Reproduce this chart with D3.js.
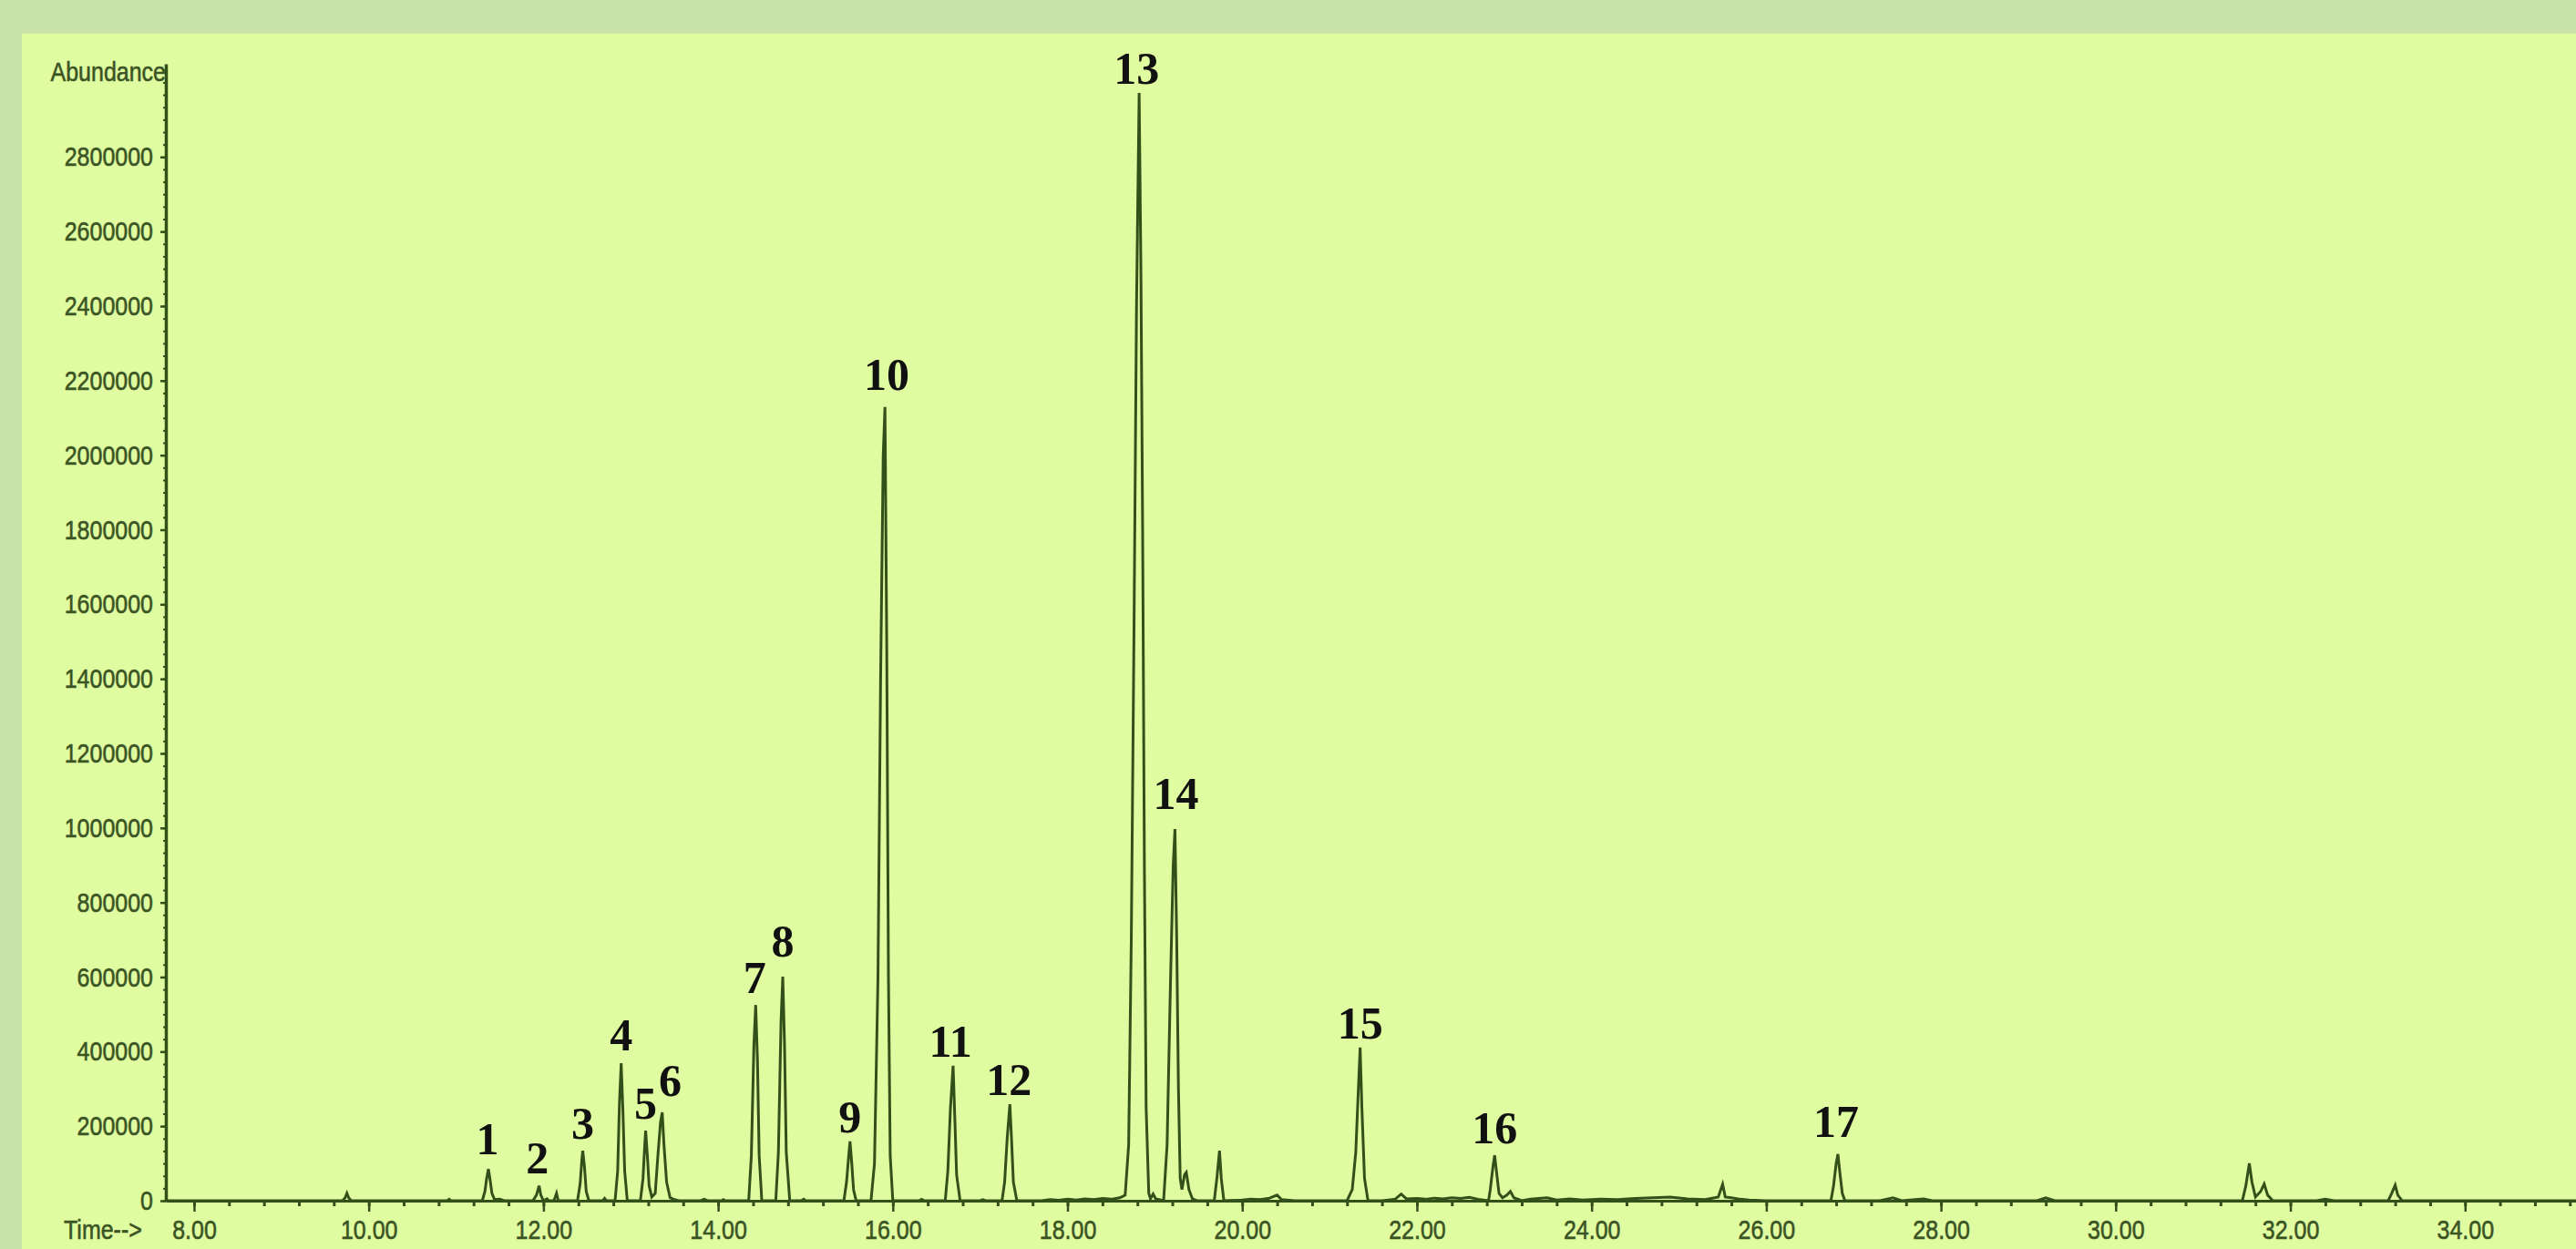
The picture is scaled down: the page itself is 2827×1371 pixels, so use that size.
<!DOCTYPE html>
<html>
<head>
<meta charset="utf-8">
<script src="https://cdn.jsdelivr.net/npm/d3@7"></script>
<style>
  body { margin: 0; background: #c8e3a8; }
  .axis path, .axis line { stroke: #34501a; }
  .axis text, .caption { fill: #3b5424; stroke: #3b5424; stroke-width: 0.5px; font-family: "Liberation Sans", Arial, sans-serif; font-size: 25px; }
</style>
</head>
<body>
<div id="chart"></div>
<script>
// tick labels
var yTicks = [0, 200000, 400000, 600000, 800000, 1000000, 1200000, 1400000,
    1600000, 1800000, 2000000, 2200000, 2400000, 2600000, 2800000]
var xTicks = [8, 10, 12, 14, 16, 18, 20, 22, 24, 26, 28, 30, 32, 34]

// peak numbers and where their labels sit (time, abundance of baseline)
var peakNames = ["1","2","3","4","5","6","7","8","9","10","11","12","13","14","15","16","17"]
var labelTime = [11.36, 11.93, 12.45, 12.89, 13.17, 13.45, 14.42, 14.74, 15.51,
    15.93, 16.66, 17.33, 18.79, 19.24, 21.35, 22.89, 26.80]
var labelAbund = [125000, 73000, 166000, 403000, 220000, 281000, 557000, 655000, 183000,
    2175000, 386000, 283000, 2996000, 1051000, 435000, 154000, 171000]

// total ion chromatogram: [time (min), abundance]
var trace = [
    [7.68, 0], [9.5, 0], [9.70, 0], [9.73, 8000], [9.75, 20000], [9.77, 8000], [9.80, 0],
    [10.9, 0], [10.92, 4000], [10.94, 0],
    [11.30, 0], [11.33, 25000], [11.35, 60000], [11.37, 85000], [11.39, 55000], [11.41, 20000], [11.44, 3000], [11.50, 4000], [11.55, 0],
    [11.88, 0], [11.92, 15000], [11.95, 40000], [11.97, 15000], [12.00, 0], [12.04, 5000], [12.06, 0],
    [12.12, 0], [12.15, 20000], [12.17, 0],
    [12.39, 0], [12.42, 45000], [12.44, 110000], [12.45, 134000], [12.47, 90000], [12.49, 25000], [12.52, 0],
    [12.68, 0], [12.70, 6000], [12.72, 0],
    [12.82, 0], [12.85, 80000], [12.87, 260000], [12.89, 369000], [12.91, 240000], [12.93, 80000], [12.96, 0],
    [13.11, 0], [13.14, 60000], [13.16, 150000], [13.17, 188000], [13.19, 120000], [13.21, 40000], [13.24, 10000],
    [13.28, 20000], [13.31, 120000], [13.34, 210000], [13.36, 237000], [13.38, 150000], [13.41, 50000], [13.45, 8000], [13.50, 3000], [13.55, 0],
    [13.80, 0], [13.84, 4000], [13.88, 0],
    [14.04, 0], [14.06, 3000], [14.08, 0],
    [14.35, 0], [14.38, 120000], [14.41, 420000], [14.43, 525000], [14.45, 380000], [14.47, 120000], [14.50, 0],
    [14.66, 0], [14.69, 130000], [14.72, 480000], [14.74, 601000], [14.76, 420000], [14.78, 130000], [14.82, 0],
    [14.95, 0], [14.98, 4000], [15.00, 0],
    [15.44, 0], [15.47, 50000], [15.50, 135000], [15.51, 159000], [15.53, 100000], [15.55, 30000], [15.58, 0],
    [15.75, 0], [15.79, 100000], [15.83, 600000], [15.86, 1400000], [15.89, 2000000], [15.91, 2129000], [15.93, 1500000], [15.95, 600000], [15.97, 120000], [16.00, 0],
    [16.30, 0], [16.33, 4000], [16.36, 0],
    [16.60, 0], [16.63, 80000], [16.66, 250000], [16.69, 362000], [16.71, 220000], [16.73, 70000], [16.77, 0],
    [17.0, 0], [17.03, 3000], [17.06, 0],
    [17.25, 0], [17.28, 50000], [17.31, 170000], [17.34, 259000], [17.36, 160000], [17.38, 50000], [17.42, 0],
    [17.70, 0], [17.8, 3000], [17.9, 1000], [18.0, 4000], [18.1, 2000], [18.2, 5000], [18.3, 3000], [18.4, 6000], [18.5, 4000], [18.6, 8000],
    [18.66, 15000], [18.70, 150000], [18.73, 700000], [18.76, 1500000], [18.79, 2400000], [18.82, 2972000], [18.84, 2500000], [18.86, 1800000], [18.88, 900000], [18.90, 250000], [18.93, 20000], [18.95, 5000], [18.98, 18000], [19.01, 5000],
    [19.10, 0], [19.14, 150000], [19.18, 600000], [19.21, 900000], [19.23, 997000], [19.25, 700000], [19.27, 300000], [19.29, 60000], [19.31, 30000],
    [19.34, 70000], [19.36, 76000], [19.39, 30000], [19.43, 5000], [19.48, 0],
    [19.68, 0], [19.71, 60000], [19.74, 134000], [19.76, 60000], [19.79, 0],
    [20.0, 2000], [20.1, 4000], [20.2, 3000], [20.3, 6000], [20.40, 15000], [20.45, 3000], [20.6, 0],
    [21.2, 0], [21.26, 30000], [21.30, 130000], [21.33, 300000], [21.35, 411000], [21.37, 250000], [21.40, 60000], [21.44, 0],
    [21.6, 0], [21.75, 4000], [21.82, 18000], [21.88, 5000], [22.0, 6000], [22.1, 4000], [22.2, 7000], [22.3, 5000], [22.4, 8000], [22.5, 6000], [22.6, 9000], [22.7, 4000], [22.82, 0],
    [22.84, 30000], [22.87, 90000], [22.89, 122000], [22.91, 80000], [22.94, 20000], [22.98, 8000], [23.03, 15000], [23.07, 25000], [23.11, 8000], [23.2, 0],
    [23.3, 4000], [23.49, 8000], [23.6, 2000], [23.75, 5000], [23.9, 2000], [24.1, 4000], [24.3, 3000], [24.5, 6000], [24.7, 8000], [24.9, 10000],
    [25.1, 5000], [25.3, 3000], [25.45, 10000], [25.50, 44000], [25.53, 10000], [25.6, 8000], [25.7, 4000], [25.8, 2000], [26.0, 0],
    [26.74, 0], [26.77, 40000], [26.80, 100000], [26.82, 125000], [26.84, 80000], [26.87, 20000], [26.90, 0],
    [27.3, 0], [27.45, 8000], [27.55, 0], [27.8, 5000], [27.9, 0], [29.1, 0], [29.2, 8000], [29.3, 0],
    [31.45, 0], [31.49, 40000], [31.53, 100000], [31.56, 50000], [31.60, 10000], [31.66, 25000], [31.70, 45000], [31.74, 15000], [31.80, 0],
    [32.3, 0], [32.4, 4000], [32.5, 0],
    [33.12, 0], [33.16, 20000], [33.20, 42000], [33.23, 15000], [33.28, 0],
    [35.27, 0]
]

var W = 2827, H = 1371

var svg = d3.select('#chart')
    .append('svg')
        .attr('width', W)
        .attr('height', H)

// outer frame and plot panel
svg.append('rect')
    .attr('width', W)
    .attr('height', H)
    .attr('fill', '#c8e3a8')
svg.append('rect')
    .attr('x', 24)
    .attr('y', 37)
    .attr('width', W - 24)
    .attr('height', H - 37)
    .attr('fill', '#e0fca0')

var x = d3.scaleLinear().domain([7.677, 35.27]).range([182, W])
var y = d3.scaleLinear().domain([0, 3050000]).range([1318, 70])

// text in the original is tall and narrow
var stretch = 'scale(1,1.2)'

// minor ticks first so the main axes sit on top
var xMinor = d3.range(7.6, 35.3, 0.4).filter(function(d){ return d >= 7.677 })
var yMinor = d3.range(0, 3050000, 200000 / 6)

svg.append('g')
    .attr('class', 'axis')
    .attr('transform', 'translate(0,' + y(0) + ')')
    .call(d3.axisBottom(x).tickValues(xMinor).tickSize(6).tickSizeOuter(0).tickFormat(''))
    .call(function(g){ g.select('.domain').remove() })
    .selectAll('line').attr('stroke-width', 3)

svg.append('g')
    .attr('class', 'axis')
    .attr('transform', 'translate(' + x.range()[0] + ',0)')
    .call(d3.axisLeft(y).tickValues(yMinor).tickSize(3).tickSizeOuter(0).tickFormat(''))
    .call(function(g){ g.select('.domain').remove() })
    .selectAll('line').attr('stroke-width', 2)

var xAxis = svg.append('g')
    .attr('class', 'axis')
    .attr('transform', 'translate(0,' + y(0) + ')')
    .call(d3.axisBottom(x)
        .tickValues(xTicks)
        .tickSize(12)
        .tickSizeOuter(0)
        .tickPadding(5)
        .tickFormat(d3.format('.2f')))
xAxis.select('.domain').attr('stroke-width', 3)
xAxis.selectAll('line').attr('stroke-width', 2.5)
xAxis.selectAll('text').attr('transform', stretch)

var yAxis = svg.append('g')
    .attr('class', 'axis')
    .attr('transform', 'translate(' + x.range()[0] + ',0)')
    .call(d3.axisLeft(y)
        .tickValues(yTicks)
        .tickSize(6)
        .tickSizeOuter(0)
        .tickPadding(8)
        .tickFormat(d3.format('d')))
yAxis.select('.domain').attr('stroke-width', 3.5)
yAxis.selectAll('line').attr('stroke-width', 2.5)
yAxis.selectAll('text').attr('transform', stretch)

// axis captions
svg.append('text')
    .attr('class', 'caption')
    .attr('transform', 'translate(182,89) ' + stretch)
    .attr('text-anchor', 'end')
    .text('Abundance')

svg.append('text')
    .attr('class', 'caption')
    .attr('transform', 'translate(70,1360) ' + stretch)
    .text('Time-->')

// the chromatogram trace
var line = d3.line()
    .x(function(d){ return x(d[0]) })
    .y(function(d){ return y(d[1]) })

svg.append('path')
    .datum(trace)
    .attr('d', line)
    .attr('fill', 'none')
    .attr('stroke', '#34501a')
    .attr('stroke-width', 3)

// peak numbers
svg.append('g')
    .selectAll('text')
    .data(peakNames)
    .enter()
    .append('text')
    .attr('x', function(d, i){ return x(labelTime[i]) })
    .attr('y', function(d, i){ return y(labelAbund[i]) })
    .attr('text-anchor', 'middle')
    .attr('font-family', '"Liberation Serif", "Times New Roman", serif')
    .attr('font-weight', 'bold')
    .attr('font-size', 50)
    .attr('fill', '#111')
    .text(function(d){ return d })
</script>
</body>
</html>
